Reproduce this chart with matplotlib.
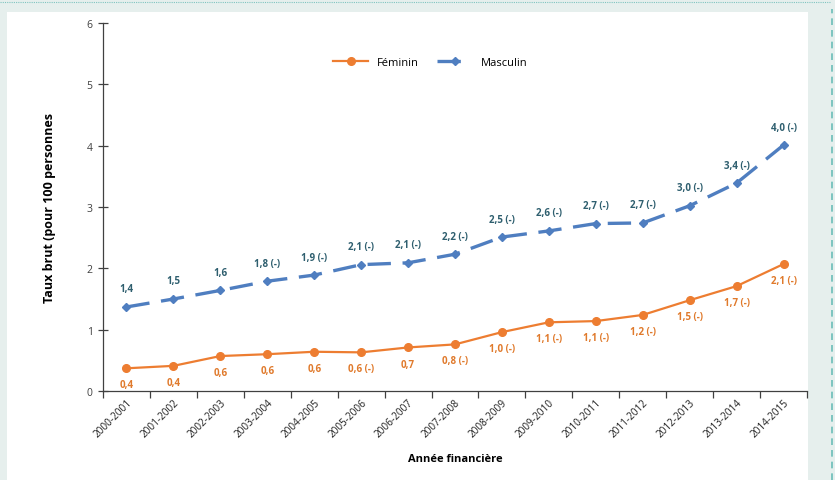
import matplotlib.pyplot as plt
from matplotlib.patches import Rectangle
from matplotlib.lines import Line2D

plt.rcParams['font.family'] = ['Open Sans', 'DejaVu Sans']

# Années financières et taux bruts (pour 100 personnes)
annees = ['2000-2001', '2001-2002', '2002-2003', '2003-2004', '2004-2005',
          '2005-2006', '2006-2007', '2007-2008', '2008-2009', '2009-2010',
          '2010-2011', '2011-2012', '2012-2013', '2013-2014', '2014-2015']
feminin = [0.37, 0.41, 0.57, 0.60, 0.64, 0.63, 0.71, 0.76, 0.96, 1.12,
           1.14, 1.24, 1.48, 1.71, 2.07]
masculin = [1.37, 1.50, 1.64, 1.79, 1.89, 2.06, 2.09, 2.23, 2.51, 2.61,
            2.73, 2.74, 3.02, 3.39, 4.01]
# Marque "(-)" dans les étiquettes
feminin_tiret = [False, False, False, False, False, True, False, True, True, True,
                 True, True, True, True, True]
masculin_tiret = [False, False, False, True, True, True, True, True, True, True,
                  True, True, True, True, True]

orange = '#ED7D31'
bleu = '#4F7EC0'
bleu_txt = '#2F5F6F'
orange_txt = '#E07A2C'
gris = '#404040'


def etiquette(v, tiret):
    s = f'{v:.1f}'.replace('.', ',')
    return s + ' (-)' if tiret else s


fig = plt.figure(figsize=(8.35, 4.81), dpi=100, facecolor='#E6EFED')
# panneau blanc et bordures pointillées
fig.patches.append(Rectangle((7 / 835, 0), 801 / 835, 468 / 481, transform=fig.transFigure,
                             facecolor='white', edgecolor='none', zorder=-10))
fig.lines.append(Line2D([0, 830 / 835], [1 - 3 / 481, 1 - 3 / 481], transform=fig.transFigure,
                        color='#7FC4C0', lw=0.8, ls=(0, (1, 1)), zorder=-10))
fig.lines.append(Line2D([832 / 835, 832 / 835], [0, 1 - 10 / 481], transform=fig.transFigure,
                        color='#6BBDB8', lw=1.2, ls=(0, (4, 3)), zorder=-10))

ax = fig.add_axes([103 / 835, 89 / 481, 704 / 835, 368 / 481])
ax.set_facecolor('none')
x = list(range(len(annees)))

ax.plot(x, feminin, color=orange, lw=1.6, marker='o', ms=5.5, label='Féminin', zorder=3)
ax.plot(x, masculin, color=bleu, lw=2.4, ls=(0, (7, 3.5)), marker='D', ms=4.5,
        label='Masculin', zorder=3)

for i in x:
    ax.annotate(etiquette(masculin[i], masculin_tiret[i]), (i, masculin[i]),
                xytext=(0, 9), textcoords='offset points', ha='center', va='bottom',
                fontsize=7, fontweight='bold', color=bleu_txt)
    ax.annotate(etiquette(feminin[i], feminin_tiret[i]), (i, feminin[i]),
                xytext=(0, -8), textcoords='offset points', ha='center', va='top',
                fontsize=7, fontweight='bold', color=orange_txt)

ax.set_xlim(-0.5, len(annees) - 0.5)
ax.set_ylim(0, 6)
ax.set_yticks(range(7))
ax.set_xticks([i - 0.5 for i in range(len(annees) + 1)], minor=False)
ax.set_xticklabels([])
ax.set_xticks(x, minor=True)
ax.set_xticklabels(annees, minor=True, rotation=45, ha='right', rotation_mode='anchor',
                   fontsize=7.2, color='#202020')
ax.tick_params(axis='x', which='minor', length=0, pad=4)
ax.tick_params(axis='x', which='major', length=5, width=0.9, color=gris)
ax.tick_params(axis='y', direction='inout', length=7, width=0.9, color=gris,
               labelsize=7.5, labelcolor=gris, pad=4)

for s in ['top', 'right']:
    ax.spines[s].set_visible(False)
for s in ['left', 'bottom']:
    ax.spines[s].set_color(gris)
    ax.spines[s].set_linewidth(0.9)

ax.set_ylabel('Taux brut (pour 100 personnes', fontsize=9, fontweight='bold', labelpad=22)
ax.set_xlabel('Année financière', fontsize=8, fontweight='bold', labelpad=10)

ax.legend(loc='upper center', bbox_to_anchor=(0.465, 0.935), ncol=2, frameon=False,
          fontsize=8, handlelength=3.2, columnspacing=1.6)

fig.savefig('out.png', dpi=100, facecolor=fig.get_facecolor())
